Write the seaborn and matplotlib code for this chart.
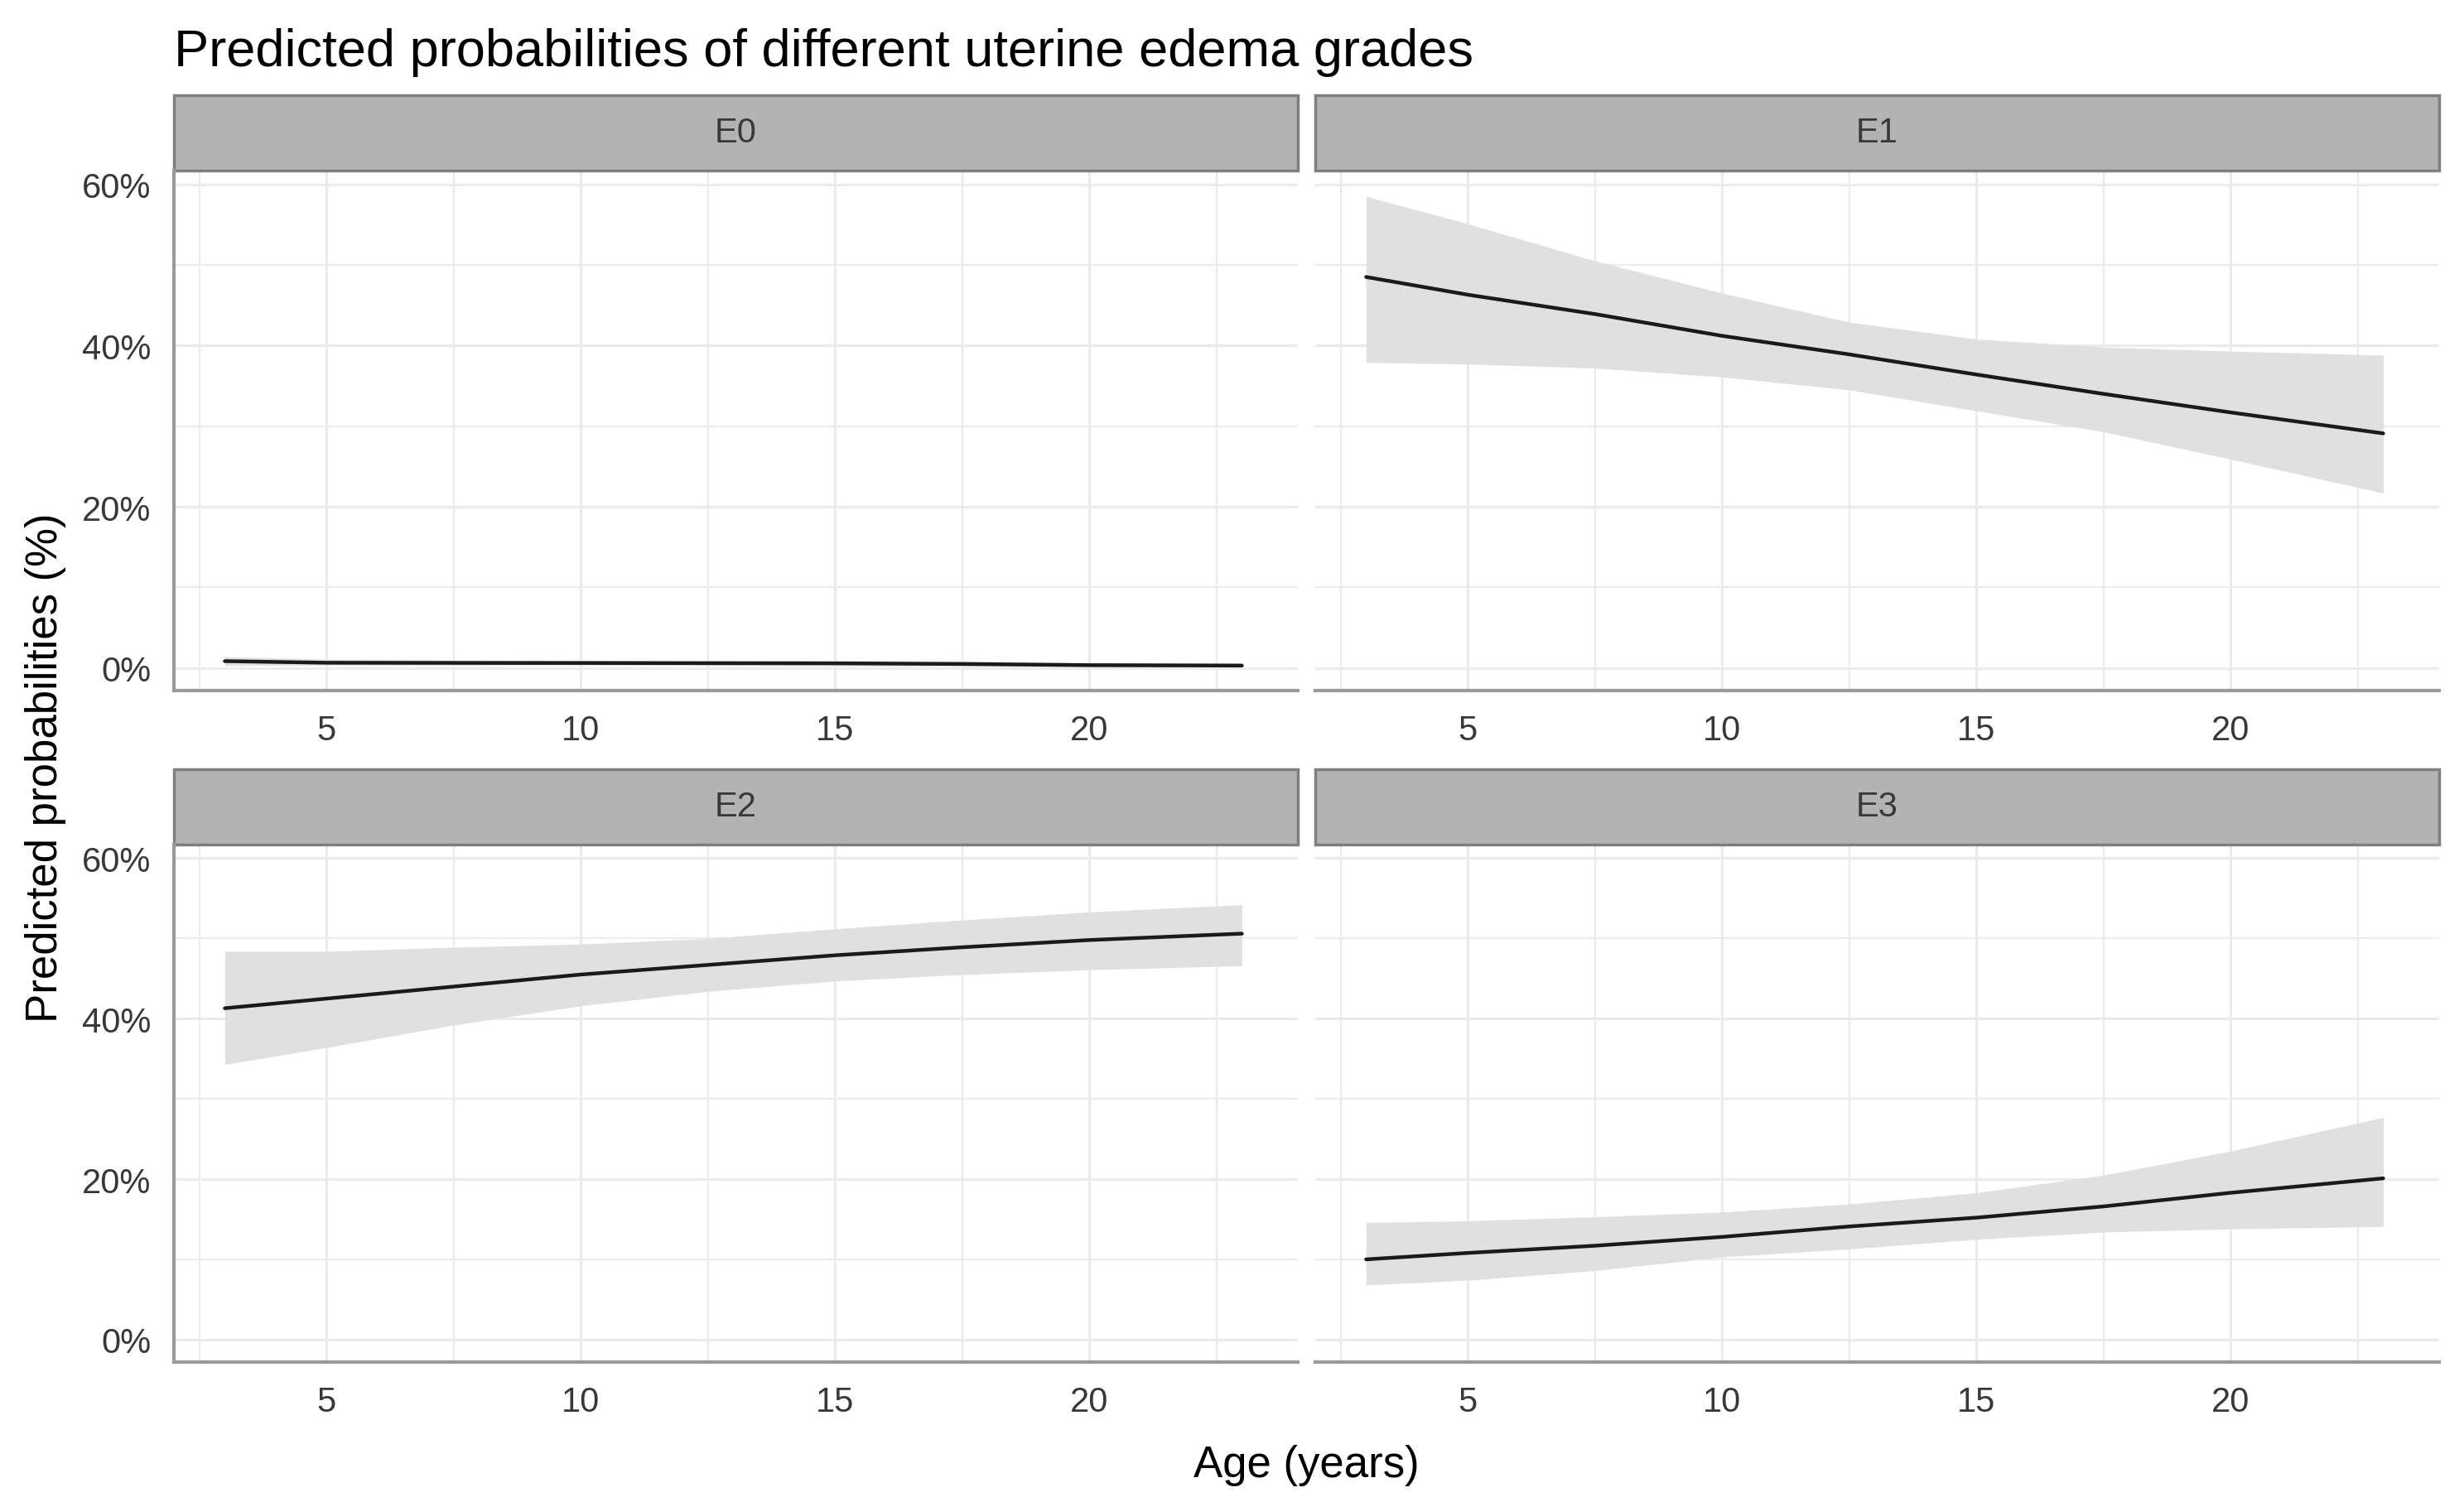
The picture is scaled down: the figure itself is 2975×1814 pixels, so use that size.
import numpy as np
import pandas as pd
import matplotlib
matplotlib.use("Agg")
import matplotlib.pyplot as plt
from matplotlib import font_manager
from matplotlib.patches import Rectangle
from matplotlib.ticker import FuncFormatter, MultipleLocator
import seaborn as sns

ages = [3, 5, 7.5, 10, 12.5, 15, 17.5, 20, 23]
grades = ["E0", "E1", "E2", "E3"]

# predicted probabilities (%) with lower / upper bounds of the ribbon
E0_fit = [0.85, 0.65, 0.63, 0.62, 0.6, 0.58, 0.5, 0.35, 0.3]
E0_lo = [0.3, 0.35, 0.35, 0.35, 0.3, 0.25, 0.2, 0.15, 0.13]
E0_hi = [1.4, 1.1, 1.0, 0.95, 0.9, 0.9, 0.85, 0.65, 0.6]

E1_fit = [48.5, 46.3, 43.9, 41.2, 38.9, 36.4, 34.0, 31.7, 29.1]
E1_lo = [37.9, 37.7, 37.2, 36.1, 34.5, 31.9, 29.3, 25.9, 21.7]
E1_hi = [58.5, 55.1, 50.5, 46.5, 42.9, 40.8, 39.8, 39.3, 38.8]

E2_fit = [41.3, 42.5, 44.0, 45.5, 46.7, 47.9, 48.9, 49.8, 50.6]
E2_lo = [34.3, 36.4, 39.2, 41.6, 43.4, 44.7, 45.5, 46.1, 46.6]
E2_hi = [48.4, 48.4, 48.9, 49.3, 50.0, 51.2, 52.3, 53.3, 54.2]

E3_fit = [10.0, 10.8, 11.7, 12.8, 14.1, 15.2, 16.6, 18.3, 20.1]
E3_lo = [6.8, 7.4, 8.6, 10.3, 11.3, 12.5, 13.4, 13.8, 14.1]
E3_hi = [14.6, 14.8, 15.3, 15.9, 16.9, 18.3, 20.5, 23.5, 27.7]

x_ticks = [5, 10, 15, 20]
y_ticks = [0, 20, 40, 60]

fits = {"E0": E0_fit, "E1": E1_fit, "E2": E2_fit, "E3": E3_fit}
los = {"E0": E0_lo, "E1": E1_lo, "E2": E2_lo, "E3": E3_lo}
his = {"E0": E0_hi, "E1": E1_hi, "E2": E2_hi, "E3": E3_hi}

rows = []
for g in grades:
    for a, f, l, h in zip(ages, fits[g], los[g], his[g]):
        rows.append({"grade": g, "age": a, "prob": f, "lo": l, "hi": h})
df = pd.DataFrame(rows)

sns.set_theme(style="white")
plt.rcParams["font.family"] = ["Liberation Sans", "DejaVu Sans"]

# the small labels in the original look condensed
installed = {f.name for f in font_manager.fontManager.ttflist}
if "Liberation Sans Narrow" in installed:
    small_font = ["Liberation Sans Narrow", "DejaVu Sans"]
    tick_size, strip_size = 36, 36
else:
    small_font = ["Liberation Sans", "DejaVu Sans"]
    tick_size, strip_size = 30, 30

W, H = 2975, 1815
fig = plt.figure(figsize=(W / 100, H / 100), dpi=100)

# panel boxes in pixels: left, top, right, bottom
boxes = {
    "E0": (210, 207, 1567, 835),
    "E1": (1588, 207, 2945, 835),
    "E2": (210, 1021, 1567, 1646),
    "E3": (1588, 1021, 2945, 1646),
}
strip_h = 91

grid_col = "#ebebeb"
axis_col = "#9a9a9a"
text_col = "#383838"

for g in grades:
    l, t, r, b = boxes[g]
    ax = fig.add_axes([l / W, 1 - b / H, (r - l) / W, (b - t) / H])
    sub = df[df["grade"] == g]
    ax.fill_between(sub["age"], sub["lo"], sub["hi"], color="#e0e0e0", lw=0, zorder=2)
    sns.lineplot(data=sub, x="age", y="prob", ax=ax, color="#1a1a1a", lw=3.2,
                 estimator=None, zorder=3)

    ax.set_xlim(2, 24.1)
    ax.set_ylim(-2.8, 61.7)
    ax.xaxis.set_major_locator(plt.FixedLocator(x_ticks))
    ax.yaxis.set_major_locator(plt.FixedLocator(y_ticks))
    ax.xaxis.set_minor_locator(MultipleLocator(5, offset=2.5))
    ax.yaxis.set_minor_locator(MultipleLocator(20, offset=10))
    ax.grid(True, which="major", color=grid_col, lw=2.2, zorder=0)
    ax.grid(True, which="minor", color=grid_col, lw=1.6, zorder=0)
    ax.set_axisbelow(True)

    for s in ["top", "right", "left", "bottom"]:
        ax.spines[s].set_visible(False)
    ax.spines["bottom"].set_visible(True)
    ax.spines["bottom"].set_color(axis_col)
    ax.spines["bottom"].set_linewidth(3)

    ax.tick_params(axis="x", which="both", length=0, pad=20, labelsize=tick_size,
                   labelcolor=text_col)
    ax.tick_params(axis="y", which="both", length=0, pad=20, labelsize=tick_size,
                   labelcolor=text_col)
    if g in ("E0", "E2"):
        ax.spines["left"].set_visible(True)
        ax.spines["left"].set_color(axis_col)
        ax.spines["left"].set_linewidth(3)
        ax.yaxis.set_major_formatter(FuncFormatter(lambda v, p: f"{v:.0f}%"))
    else:
        ax.set_yticklabels([])
    for lab in ax.get_xticklabels() + ax.get_yticklabels():
        lab.set_family(small_font)
    ax.set_xlabel("")
    ax.set_ylabel("")

    # facet strip
    sh = strip_h / (b - t)
    ax.add_patch(Rectangle((0, 1), 1, sh, transform=ax.transAxes, clip_on=False,
                           facecolor="#b3b3b3", edgecolor="#7f7f7f", lw=2.5))
    ax.text(0.5, 1 + sh / 2, g, transform=ax.transAxes, ha="center", va="center",
            fontsize=strip_size, color=text_col, family=small_font)

fig.text(210 / W, 1 - 80 / H, "Predicted probabilities of different uterine edema grades",
         fontsize=45.5, ha="left", va="baseline", color="black")
fig.text(1577 / W, 1 - 1784 / H, "Age (years)", fontsize=38, ha="center",
         va="baseline", color="black")
fig.text(55 / W, 1 - 927 / H, "Predicted probabilities (%)", fontsize=38,
         rotation=90, ha="center", va="center", color="black")

fig.savefig("out.png", dpi=100)
